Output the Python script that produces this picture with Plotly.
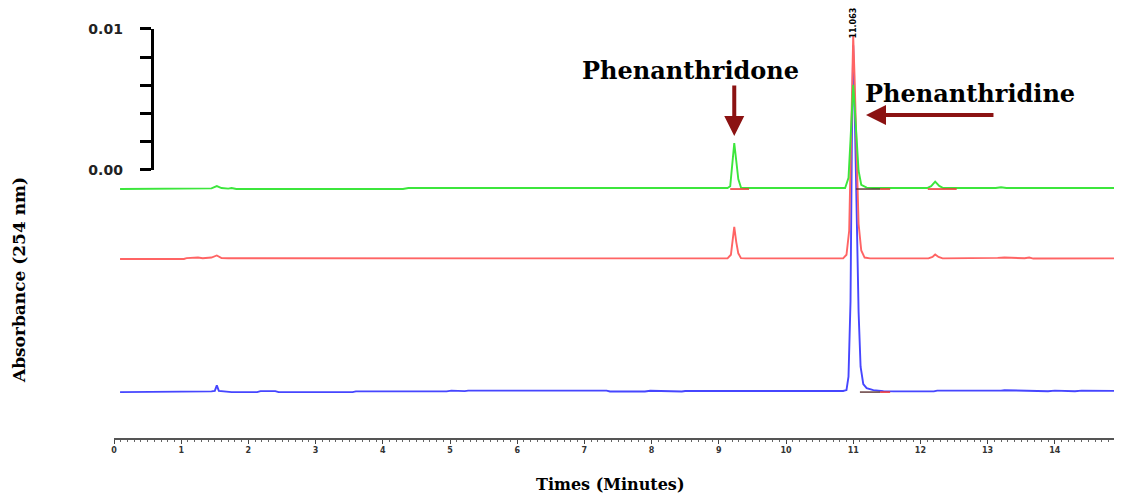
import plotly.graph_objects as go

# ---------------- data (time in minutes, signal in AU above each trace's own baseline) ----------
t_green = [0.09, 1.10, 1.17, 1.30, 1.45, 1.53, 1.60, 1.70, 1.75, 1.82, 4.30, 4.38,
           9.13, 9.17, 9.20, 9.23, 9.26, 9.29, 9.33, 9.40,
           10.88, 10.93, 10.96, 10.98, 11.00, 11.02, 11.05, 11.08, 11.12, 11.20, 11.30,
           12.10, 12.16, 12.22, 12.28, 12.34, 13.12, 13.20, 13.28, 14.99]
a_green = [0.0, 0.0, 0.00005, 0.00004, 0.00005, 0.00021, 0.00007, 0.00003, 0.00007, 0.0, 0.0, 0.00007,
           0.00007, 0.0002, 0.0015, 0.00326, 0.0020, 0.0007, 0.0001, 0.00007,
           0.00007, 0.0008, 0.0035, 0.0062, 0.0074, 0.0060, 0.0032, 0.0013, 0.0003, 0.0001, 0.00007,
           0.00007, 0.0002, 0.00052, 0.00022, 0.00007, 0.00007, 0.00013, 0.00007, 0.00007]

t_red = [0.09, 1.04, 1.08, 1.25, 1.32, 1.38, 1.45, 1.53, 1.60, 1.70, 2.26, 2.30, 6.77, 6.81,
         9.13, 9.18, 9.21, 9.23, 9.26, 9.29, 9.33, 9.40,
         10.85, 10.90, 10.94, 10.97, 10.99, 11.00, 11.02, 11.05, 11.08, 11.12, 11.17, 11.25,
         12.12, 12.18, 12.22, 12.27, 12.33, 13.15, 13.25, 13.55, 13.62, 13.68, 14.99]
a_red = [0.0, 0.0, 0.00006, 0.0001, 0.00005, 0.00008, 0.0001, 0.00025, 0.00006, 0.00005, 0.00005, 0.0, 0.0, 0.00004,
         0.00004, 0.0003, 0.0017, 0.00227, 0.0012, 0.0004, 0.00006, 0.00004,
         0.00004, 0.0003, 0.0020, 0.0090, 0.0145, 0.01582, 0.0130, 0.0068, 0.0025, 0.0006, 0.0001, 0.00004,
         0.00004, 0.00015, 0.00032, 0.00014, 0.00004, 0.00008, 0.0001, 0.00005, 0.0001, 0.00003, 0.00004]

t_blue = [0.09, 1.35, 1.45, 1.50, 1.53, 1.56, 1.62, 1.75, 2.13, 2.18, 2.40, 2.45, 3.55, 3.60,
          4.95, 5.02, 5.22, 5.27, 7.33, 7.38, 7.90, 7.98, 8.45, 8.50,
          10.85, 10.90, 10.93, 10.96, 10.98, 11.00, 11.02, 11.05, 11.08, 11.11, 11.15, 11.20, 11.30, 11.45, 11.60,
          12.20, 12.25, 13.20, 13.25, 13.90, 14.00, 14.30, 14.40, 14.99]
a_blue = [0.0, 0.0, 0.00005, 0.00008, 0.00047, 0.00008, 0.00004, 0.0, 0.0, 0.00007, 0.00007, 0.0, 0.0, 0.00005,
          0.00005, 0.0001, 0.00007, 0.0001, 0.0001, 0.00004, 0.00004, 0.00009, 0.00004, 0.00008,
          0.00008, 0.00014, 0.0011, 0.0064, 0.0177, 0.0246, 0.0206, 0.0121, 0.0057, 0.0018, 0.00057, 0.00028, 0.00014, 0.00007, 0.00005,
          0.00005, 0.0001, 0.0001, 0.00013, 0.00006, 0.0001, 0.00006, 0.0001, 0.00008]

# vertical stacking offsets of the three chromatograms (AU)
offset_green = -0.00135
offset_red = -0.00631
offset_blue = -0.01575

# integration baseline marks drawn by the software (start, end, trace)
mark_start = [9.17, 11.40, 12.11, 11.40]
mark_end = [9.45, 11.55, 12.54, 11.55]
mark_trace = ["green", "green", "green", "blue"]
dark_start = [11.04, 11.10]
dark_end = [11.40, 11.40]
dark_trace = ["green", "blue"]

peak_rt_label = "11.063"
peak_rt = 11.0

ytick_vals = [0.0, 0.002, 0.004, 0.006, 0.008, 0.01]
ytick_text = ["0.00", "", "", "", "", "0.01"]
xtick_vals = list(range(0, 16))

# ---------------- figure ----------------
offsets = {"green": offset_green, "red": offset_red, "blue": offset_blue}
fig = go.Figure()

fig.add_trace(go.Scatter(x=t_blue, y=[v + offset_blue for v in a_blue], mode="lines",
                         line=dict(color="#4646FF", width=1.9), showlegend=False, hoverinfo="skip"))
fig.add_trace(go.Scatter(x=t_red, y=[v + offset_red for v in a_red], mode="lines",
                         line=dict(color="#FF6464", width=1.9), showlegend=False, hoverinfo="skip"))
fig.add_trace(go.Scatter(x=t_green, y=[v + offset_green for v in a_green], mode="lines",
                         line=dict(color="#3CE63C", width=1.9), showlegend=False, hoverinfo="skip"))


def segs(starts, ends, traces):
    xs, ys = [], []
    for s, e, tr in zip(starts, ends, traces):
        xs += [s, e, None]
        ys += [offsets[tr], offsets[tr], None]
    return xs, ys


mx, my = segs(mark_start, mark_end, mark_trace)
fig.add_trace(go.Scatter(x=mx, y=my, mode="lines", line=dict(color="#F03A3A", width=1.6),
                         showlegend=False, hoverinfo="skip"))
dx, dy = segs(dark_start, dark_end, dark_trace)
fig.add_trace(go.Scatter(x=dx, y=dy, mode="lines", line=dict(color="#5A3030", width=1.4),
                         showlegend=False, hoverinfo="skip"))

# scale-bar axis carrier
fig.add_trace(go.Scatter(x=[None], y=[None], yaxis="y2", showlegend=False, hoverinfo="skip"))

fig.update_layout(
    width=1114, height=487,
    margin=dict(l=106, r=0, t=0, b=57, autoexpand=False),
    paper_bgcolor="white", plot_bgcolor="rgba(0,0,0,0)",
    showlegend=False,
    xaxis=dict(range=[0, 15], showline=True, linecolor="#555555", linewidth=1.5,
               ticks="outside", ticklen=4, tickwidth=1, tickcolor="#444444",
               tickvals=xtick_vals, showgrid=False, zeroline=False, automargin=False,
               tickfont=dict(family="DejaVu Sans", size=8, color="#333333", weight="bold"),
               minor=dict(dtick=0.1, ticks="outside", ticklen=2.5, tickcolor="#666666", showgrid=False)),
    yaxis=dict(range=[-0.019007, 0.011489], visible=False, showgrid=False, zeroline=False,
               automargin=False),
    yaxis2=dict(domain=[0.6233, 0.9512], range=[0, 0.01], anchor="free", position=0.0374,
                showline=True, linecolor="black", linewidth=3, ticks="outside", ticklen=11,
                tickwidth=2.5, tickcolor="black", tickvals=ytick_vals, ticktext=ytick_text,
                ticklabelstandoff=14, showgrid=False, zeroline=False, automargin=False,
                tickfont=dict(family="DejaVu Sans", size=14, color="#222222", weight="bold")),
)

arrow_color = "#8B1212"
annots = [
    dict(text="Phenanthridone", x=8.586, y=0.00709, xref="x", yref="y", showarrow=False,
         xanchor="center", yanchor="middle",
         font=dict(family="DejaVu Serif", size=24, color="black", weight="bold")),
    dict(text="Phenanthridine", x=12.74, y=0.00546, xref="x", yref="y", showarrow=False,
         xanchor="center", yanchor="middle",
         font=dict(family="DejaVu Serif", size=24, color="black", weight="bold")),
    dict(text="", x=9.23, y=0.00241, xref="x", yref="y", showarrow=True, ax=0, ay=-52,
         arrowhead=2, arrowsize=1.0, arrowwidth=4, arrowcolor=arrow_color),
    dict(text="", x=11.19, y=0.0039, xref="x", yref="y", showarrow=True, ax=129, ay=0,
         arrowhead=2, arrowsize=1.0, arrowwidth=4, arrowcolor=arrow_color),
    dict(text=peak_rt_label, x=peak_rt, y=0.0104, xref="x", yref="y", showarrow=False,
         xanchor="center", yanchor="middle",
         textangle=-90, font=dict(family="DejaVu Sans", size=8, color="black", weight="bold")),
    dict(text="Absorbance (254 nm)", x=-0.0942, y=0.3674, xref="paper", yref="paper",
         xanchor="center", yanchor="middle", showarrow=False, textangle=-90,
         font=dict(family="DejaVu Serif", size=17, color="black", weight="bold")),
    dict(text="Times (Minutes)", x=0.492, y=-0.1093, xref="paper", yref="paper",
         xanchor="center", yanchor="middle", showarrow=False,
         font=dict(family="DejaVu Serif", size=16, color="black", weight="bold")),
]
fig.update_layout(annotations=annots)

fig.write_html("out.html")
